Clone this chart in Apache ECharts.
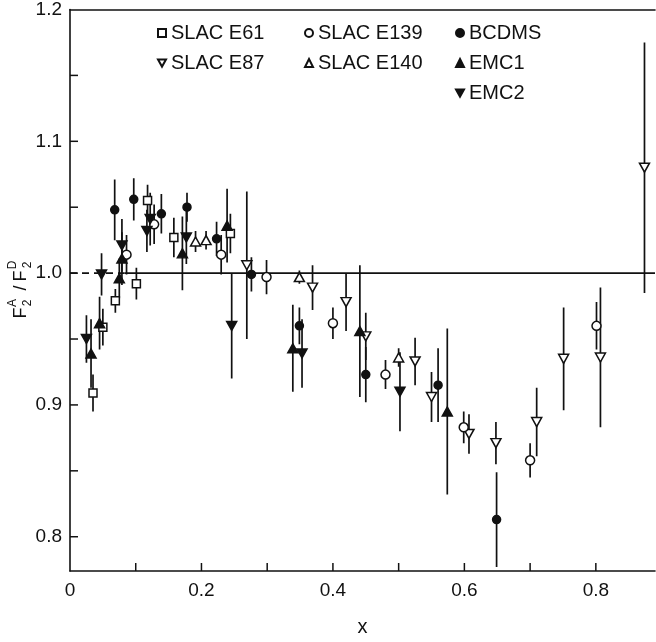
<!DOCTYPE html>
<html>
<head>
    <meta charset="utf-8" />
    <title>F2A / F2D</title>
    <script src="https://cdn.jsdelivr.net/npm/echarts@6/dist/echarts.min.js"></script>
</head>
<body style="margin:0;background:#fff">
    <div id="main" style="width:656px;height:642px;"></div>
    <script type="text/javascript">
        // values
        var e61X = [0.035, 0.050, 0.069, 0.101, 0.118, 0.158, 0.244];
        var e61Y = [0.909, 0.959, 0.979, 0.992, 1.055, 1.027, 1.030];
        var e61Err = [0.014, 0.014, 0.009, 0.012, 0.012, 0.015, 0.015];

        var e139X = [0.086, 0.128, 0.230, 0.299, 0.400, 0.480, 0.599, 0.700, 0.801];
        var e139Y = [1.014, 1.037, 1.014, 0.997, 0.962, 0.923, 0.883, 0.858, 0.960];
        var e139Err = [0.015, 0.015, 0.015, 0.013, 0.012, 0.011, 0.012, 0.013, 0.018];

        var e87X = [0.269, 0.369, 0.420, 0.450, 0.525, 0.550, 0.607, 0.648, 0.710, 0.751, 0.807, 0.874];
        var e87Y = [1.006, 0.989, 0.978, 0.952, 0.933, 0.906, 0.878, 0.871, 0.887, 0.935, 0.936, 1.080];
        var e87Err = [0.056, 0.017, 0.022, 0.018, 0.018, 0.019, 0.015, 0.016, 0.026, 0.039, 0.053, 0.095];

        var e140X = [0.191, 0.207, 0.349, 0.500];
        var e140Y = [1.024, 1.025, 0.997, 0.936];
        var e140Err = [0.008, 0.007, 0.005, 0.007];

        var bcdmsX = [0.068, 0.097, 0.139, 0.178, 0.223, 0.276, 0.349, 0.450, 0.560, 0.649];
        var bcdmsY = [1.048, 1.056, 1.045, 1.050, 1.026, 0.999, 0.960, 0.923, 0.915, 0.813];
        var bcdmsErr = [0.023, 0.016, 0.015, 0.011, 0.013, 0.013, 0.014, 0.021, 0.028, 0.036];

        var emc1X = [0.032, 0.045, 0.075, 0.079, 0.171, 0.239, 0.339, 0.441, 0.574];
        var emc1Y = [0.939, 0.962, 0.996, 1.011, 1.015, 1.036, 0.943, 0.956, 0.895];
        var emc1Err = [0.026, 0.020, 0.015, 0.020, 0.028, 0.028, 0.033, 0.050, 0.063];

        var emc2X = [0.025, 0.048, 0.079, 0.117, 0.122, 0.177, 0.246, 0.353, 0.502];
        var emc2Y = [0.950, 0.999, 1.021, 1.032, 1.041, 1.027, 0.960, 0.939, 0.910];
        var emc2Err = [0.018, 0.016, 0.020, 0.016, 0.020, 0.020, 0.040, 0.026, 0.030];

        var yTicks = [0.8, 0.85, 0.9, 0.95, 1.0, 1.05, 1.1, 1.15];
        var yLabels = [0.8, 0.9, 1.0, 1.1, 1.2];
        var xTicks = [0.1, 0.2, 0.3, 0.4, 0.5, 0.6, 0.7, 0.8];
        var xLabels = [0, 0.2, 0.4, 0.6, 0.8];

        var xMin = 0, xMax = 0.89, yMin = 0.774, yMax = 1.2;
        var ink = '#111';
        var font = 'Liberation Sans';
        var downTri = 'path://M0,0L10,0L5,9Z';

        var myChart = echarts.init(document.getElementById('main'));

        function pts(xs, ys) {
            return xs.map(function (x, i) { return [x, ys[i]]; });
        }
        function bars(xs, ys, es) {
            return xs.map(function (x, i) { return [x, ys[i] - es[i], ys[i] + es[i]]; });
        }
        function errSeries(xs, ys, es) {
            return {
                type: 'custom',
                z: 2,
                clip: true,
                silent: true,
                encode: { x: 0, y: [1, 2] },
                data: bars(xs, ys, es),
                renderItem: function (params, api) {
                    var a = api.coord([api.value(0), api.value(1)]);
                    var b = api.coord([api.value(0), api.value(2)]);
                    return {
                        type: 'line',
                        shape: { x1: a[0], y1: a[1], x2: b[0], y2: b[1] },
                        style: { stroke: ink, lineWidth: 1.7 }
                    };
                }
            };
        }
        // inward tick marks, placed through the axes' own scales
        function tickSeries(data, dx, dy) {
            return {
                type: 'custom',
                z: 3,
                clip: false,
                silent: true,
                data: data,
                renderItem: function (params, api) {
                    var p = api.coord([api.value(0), api.value(1)]);
                    return {
                        type: 'line',
                        shape: { x1: p[0], y1: p[1], x2: p[0] + dx, y2: p[1] + dy },
                        style: { stroke: ink, lineWidth: 1.5 }
                    };
                }
            };
        }
        function markSeries(name, xs, ys, symbol, size, filled) {
            return {
                name: name,
                type: 'scatter',
                z: 4,
                symbol: symbol,
                symbolSize: size,
                itemStyle: {
                    color: filled ? ink : '#fff',
                    borderColor: ink,
                    borderWidth: 1.5,
                    opacity: 1
                },
                data: pts(xs, ys)
            };
        }

        var legendBase = {
            orient: 'vertical',
            top: 18,
            itemWidth: 8,
            itemHeight: 8,
            itemGap: 10,
            selectedMode: false,
            textStyle: { fontFamily: font, fontSize: 20, lineHeight: 20, color: ink }
        };

        var option = {
            backgroundColor: '#fff',
            animation: false,
            grid: { left: 70, right: 1, top: 5, bottom: 70 },
            legend: [
                Object.assign({}, legendBase, { left: 152, data: ['SLAC E61', 'SLAC E87'] }),
                Object.assign({}, legendBase, { left: 299, data: ['SLAC E139', 'SLAC E140'] }),
                Object.assign({}, legendBase, { left: 450, data: ['BCDMS', 'EMC1', 'EMC2'] })
            ],
            xAxis: [{
                type: 'value',
                min: xMin,
                max: xMax,
                name: 'x',
                nameLocation: 'middle',
                nameGap: 46,
                nameTextStyle: { fontFamily: font, fontSize: 20, color: ink },
                axisLine: { show: true, lineStyle: { color: ink, width: 1.6 } },
                axisTick: { show: false },
                axisLabel: {
                    customValues: xLabels, margin: 10, color: ink, fontFamily: font, fontSize: 19,
                    formatter: function (v) { return v === 0 ? '0' : v.toFixed(1); }
                },
                splitLine: { show: false }
            }, {
                type: 'value',
                position: 'top',
                min: xMin,
                max: xMax,
                axisLine: { show: true, onZero: false, lineStyle: { color: ink, width: 1.6 } },
                axisTick: { show: false },
                axisLabel: { show: false },
                splitLine: { show: false }
            }],
            yAxis: {
                type: 'value',
                min: yMin,
                max: yMax,
                axisLine: { show: true, lineStyle: { color: ink, width: 1.6 } },
                axisTick: { show: false },
                axisLabel: {
                    customValues: yLabels, margin: 8, color: ink, fontFamily: font, fontSize: 19,
                    formatter: function (v) { return v.toFixed(1); }
                },
                splitLine: { show: false }
            },
            graphic: [{
                type: 'group',
                x: 21,
                y: 282,
                rotation: Math.PI / 2,
                children: [
                    { type: 'text', x: -31, y: 0, style: { text: 'F', font: '18px ' + font, fill: ink, align: 'center', verticalAlign: 'middle' } },
                    { type: 'text', x: -21, y: -8, style: { text: 'A', font: '12px ' + font, fill: ink, align: 'center', verticalAlign: 'middle' } },
                    { type: 'text', x: -21, y: 7, style: { text: '2', font: '12px ' + font, fill: ink, align: 'center', verticalAlign: 'middle' } },
                    { type: 'text', x: -6, y: 0, style: { text: '/', font: '18px ' + font, fill: ink, align: 'center', verticalAlign: 'middle' } },
                    { type: 'text', x: 6, y: 0, style: { text: 'F', font: '18px ' + font, fill: ink, align: 'center', verticalAlign: 'middle' } },
                    { type: 'text', x: 17, y: -8, style: { text: 'D', font: '12px ' + font, fill: ink, align: 'center', verticalAlign: 'middle' } },
                    { type: 'text', x: 17, y: 7, style: { text: '2', font: '12px ' + font, fill: ink, align: 'center', verticalAlign: 'middle' } }
                ]
            }],
            series: [
                {
                    type: 'line', z: 1, silent: true, symbol: 'none',
                    lineStyle: { color: ink, width: 1.6, type: [7, 5] },
                    data: [[0, 1], [0.083, 1]]
                },
                {
                    type: 'line', z: 1, silent: true, symbol: 'none',
                    lineStyle: { color: ink, width: 1.6 },
                    data: [[0.083, 1], [0.89, 1]]
                },
                tickSeries(yTicks.map(function (v) { return [xMin, v]; }), 8, 0),
                tickSeries(xTicks.map(function (v) { return [v, yMin]; }), 0, -8),
                errSeries(e61X, e61Y, e61Err),
                errSeries(e139X, e139Y, e139Err),
                errSeries(e87X, e87Y, e87Err),
                errSeries(e140X, e140Y, e140Err),
                errSeries(bcdmsX, bcdmsY, bcdmsErr),
                errSeries(emc1X, emc1Y, emc1Err),
                errSeries(emc2X, emc2Y, emc2Err),
                markSeries('SLAC E61', e61X, e61Y, 'rect', 8, false),
                markSeries('SLAC E87', e87X, e87Y, downTri, [10, 9], false),
                markSeries('SLAC E139', e139X, e139Y, 'circle', 9, false),
                markSeries('SLAC E140', e140X, e140Y, 'triangle', [10, 9], false),
                markSeries('BCDMS', bcdmsX, bcdmsY, 'circle', 8, true),
                markSeries('EMC1', emc1X, emc1Y, 'triangle', [10, 9], true),
                markSeries('EMC2', emc2X, emc2Y, downTri, [10, 9], true)
            ]
        };

        myChart.setOption(option);
    </script>
</body>
</html>
